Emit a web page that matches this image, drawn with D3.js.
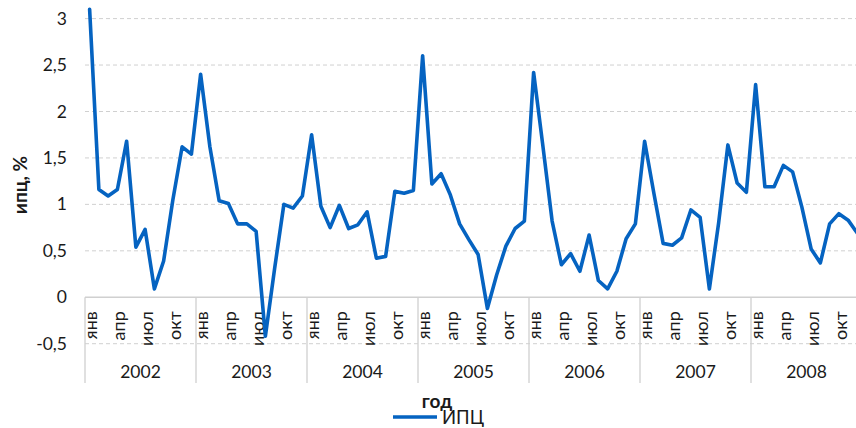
<!DOCTYPE html>
<html lang="ru">
<head>
<meta charset="utf-8">
<script src="https://cdn.jsdelivr.net/npm/d3@7/dist/d3.min.js"></script>
<style>
  html, body { margin: 0; padding: 0; background: #fff; overflow: hidden; }
  svg { display: block; font-family: Lato, "Open Sans", "Noto Sans", sans-serif; }
</style>
</head>
<body>
<svg id="chart" width="856" height="428"></svg>
<script>
// Monthly consumer price index growth, % per month
const years = [2002, 2003, 2004, 2005, 2006, 2007, 2008];
const monthNames = ["янв", "фев", "мар", "апр", "май", "июн", "июл", "авг", "сен", "окт", "ноя", "дек"];
const shownMonths = ["янв", "апр", "июл", "окт"];
const yTicks = [-0.5, 0, 0.5, 1, 1.5, 2, 2.5, 3];

const cpi2002 = [3.10, 1.16, 1.09, 1.16, 1.68, 0.54, 0.73, 0.09, 0.39, 1.05, 1.62, 1.54];
const cpi2003 = [2.40, 1.62, 1.04, 1.01, 0.79, 0.79, 0.71, -0.42, 0.31, 1.00, 0.96, 1.09];
const cpi2004 = [1.75, 0.98, 0.75, 0.99, 0.74, 0.78, 0.92, 0.42, 0.44, 1.14, 1.12, 1.15];
const cpi2005 = [2.60, 1.22, 1.33, 1.10, 0.79, 0.62, 0.46, -0.12, 0.24, 0.55, 0.74, 0.82];
const cpi2006 = [2.42, 1.63, 0.82, 0.35, 0.47, 0.28, 0.67, 0.18, 0.09, 0.28, 0.63, 0.79];
const cpi2007 = [1.68, 1.12, 0.58, 0.56, 0.64, 0.94, 0.86, 0.09, 0.80, 1.64, 1.23, 1.13];
const cpi2008 = [2.29, 1.19, 1.19, 1.42, 1.35, 0.97, 0.52, 0.37, 0.79, 0.90, 0.83, 0.69];
const seriesByYear = [cpi2002, cpi2003, cpi2004, cpi2005, cpi2006, cpi2007, cpi2008];

const seriesName = "ИПЦ";
const yTitle = "ипц, %";
const xTitle = "год";

// flatten into one monthly series
const data = [];
years.forEach((yr, yi) => {
  seriesByYear[yi].forEach((v, mi) => {
    data.push({ key: yr + "-" + mi, year: yr, month: monthNames[mi], value: v });
  });
});

const svg = d3.select("#chart");
const plotLeft = 85, plotRight = 862, plotTop = 18.6, axisBottom = 383;

const x = d3.scaleBand().domain(data.map(d => d.key)).range([plotLeft, plotRight]).padding(0);
const xYear = d3.scaleBand().domain(years).range([plotLeft, plotRight]).padding(0);
const y = d3.scaleLinear().domain([-0.5, 3]).range([343.7, plotTop]);

const gridColor = "#d0d0d0";
const textColor = "#1a1a1a";
const fmt = d => String(d).replace(".", ",");

// horizontal gridlines (dashed)
svg.append("g")
  .selectAll("line")
  .data(yTicks.filter(t => t !== 0))
  .join("line")
  .attr("x1", plotLeft).attr("x2", plotRight)
  .attr("y1", d => y(d)).attr("y2", d => y(d))
  .attr("stroke", gridColor)
  .attr("stroke-width", 1)
  .attr("stroke-dasharray", "4,3");

// y axis tick labels
const yAxis = d3.axisLeft(y).tickValues(yTicks).tickFormat(fmt).tickSize(0).tickPadding(0);
svg.append("g")
  .attr("transform", "translate(67,0)")
  .call(yAxis)
  .call(g => g.select(".domain").remove())
  .call(g => g.selectAll("text")
    .attr("font-family", "Lato, 'Open Sans', sans-serif")
    .attr("font-size", 17.5)
    .attr("fill", textColor));

// category axis line at zero
svg.append("line")
  .attr("x1", plotLeft).attr("x2", plotRight)
  .attr("y1", y(0)).attr("y2", y(0))
  .attr("stroke", gridColor).attr("stroke-width", 1.3);

// year separators
const sepXs = years.map(yr => xYear(yr)).concat([xYear(years[years.length - 1]) + xYear.bandwidth()]);
svg.append("g")
  .selectAll("line")
  .data(sepXs)
  .join("line")
  .attr("x1", d => d).attr("x2", d => d)
  .attr("y1", y(0)).attr("y2", axisBottom)
  .attr("stroke", gridColor).attr("stroke-width", 1.3);

// month labels, rotated
svg.append("g")
  .selectAll("text")
  .data(data.filter(d => shownMonths.includes(d.month)))
  .join("text")
  .attr("transform", d => `translate(${x(d.key) + x.bandwidth() / 2 + 1.5},${y(0) + 14}) rotate(-90)`)
  .attr("text-anchor", "end")
  .attr("dy", "0.35em")
  .attr("font-size", 18)
  .attr("fill", textColor)
  .text(d => d.month);

// year labels
svg.append("g")
  .selectAll("text")
  .data(years)
  .join("text")
  .attr("x", d => xYear(d) + xYear.bandwidth() / 2)
  .attr("y", 378)
  .attr("text-anchor", "middle")
  .attr("font-size", 17.5)
  .attr("fill", textColor)
  .text(d => d);

// CPI line
const line = d3.line()
  .x(d => x(d.key) + x.bandwidth() / 2)
  .y(d => y(d.value));

svg.append("path")
  .datum(data)
  .attr("d", line)
  .attr("fill", "none")
  .attr("stroke", "#0563c1")
  .attr("stroke-width", 3.6)
  .attr("stroke-linejoin", "round")
  .attr("stroke-linecap", "round");

// y axis title
svg.append("text")
  .attr("transform", "translate(27,185) rotate(-90)")
  .attr("text-anchor", "middle")
  .attr("font-size", 19)
  .attr("font-weight", "bold")
  .attr("fill", textColor)
  .text(yTitle);

// x axis title
svg.append("text")
  .attr("x", 437)
  .attr("y", 408)
  .attr("text-anchor", "middle")
  .attr("font-size", 19)
  .attr("font-weight", "bold")
  .attr("fill", textColor)
  .text(xTitle);

// legend
const legend = svg.append("g");
legend.append("line")
  .attr("x1", 393).attr("x2", 437)
  .attr("y1", 417).attr("y2", 417)
  .attr("stroke", "#0563c1").attr("stroke-width", 3.6);
legend.append("text")
  .attr("x", 442).attr("y", 423.5)
  .attr("font-size", 18.5)
  .attr("fill", textColor)
  .text(seriesName);
</script>
</body>
</html>
